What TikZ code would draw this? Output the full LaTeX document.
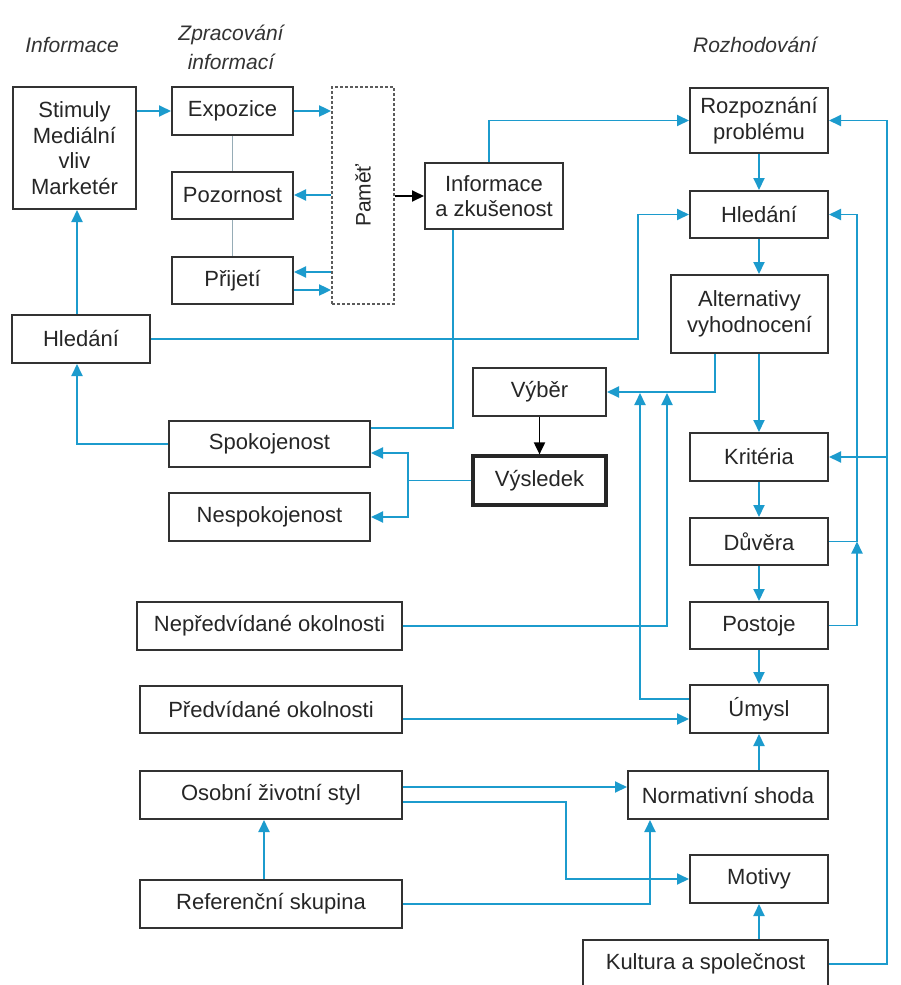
\documentclass[tikz,border=0pt]{standalone}
\usepackage{fontspec}
\setmainfont{Liberation Sans}
\usetikzlibrary{arrows.meta,calc}
\definecolor{cblue}{RGB}{28,155,205}
\definecolor{cbox}{RGB}{50,50,50}
\definecolor{cgrayline}{RGB}{150,172,182}
\begin{document}
\begin{tikzpicture}[x=1pt,y=-1pt,
  box/.style={draw=cbox,line width=2pt,fill=white,inner sep=0pt,align=center,
    font=\fontsize{22}{25.5}\selectfont,text=black!85},
  hdr/.style={inner sep=0pt,align=center,font=\fontsize{21}{29}\selectfont\itshape,text=black!80},
  bl/.style={draw=cblue,line width=1.9pt},
  ba/.style={bl,-{Triangle[length=12pt,width=11pt]}},
  ka/.style={draw=black,line width=1.9pt,-{Triangle[length=12pt,width=11pt]}},
]
\clip (0,0) rectangle (900,985);
\fill[white] (0,0) rectangle (900,985);

% headers
\node[hdr] (hinf) at (72,45) {Informace};
\node[hdr] (hzpr) at (231,47) {Zpracování\\informací};
\node[hdr] (hroz) at (755,45) {Rozhodování};

% boxes left/middle
\node[box,minimum width=123,minimum height=122] (stim) at (74.5,148) {Stimuly\\Mediální\\vliv\\Marketér};
\node[box,minimum width=121,minimum height=48] (expo) at (232.5,111) {Expozice};
\node[box,minimum width=121,minimum height=47] (pozor) at (232.5,195) {Pozornost};
\node[box,minimum width=121,minimum height=47] (prij) at (232.5,280.5) {Přijetí};
\node[box,draw=cbox!80,densely dashed,line width=1.8pt,minimum width=62,minimum height=217] (pamet) at (363,195.5) {};
\node[rotate=90,font=\fontsize{21}{25}\selectfont,text=black!85] (pametlbl) at (pamet.center) {Paměť};
\node[box,minimum width=138,minimum height=48] (hledL) at (81,339) {Hledání};
\node[box,minimum width=138,minimum height=66] (infz) at (494,196) {Informace\\a zkušenost};
\node[box,minimum width=133,minimum height=48] (vyber) at (539.5,392) {Výběr};
\node[box,line width=3.2pt,draw=black!85,minimum width=133,minimum height=49] (vysl) at (539.5,480.5) {Výsledek};
\node[box,minimum width=201,minimum height=46] (spok) at (269.5,444) {Spokojenost};
\node[box,minimum width=201,minimum height=48] (nesp) at (269.5,517) {Nespokojenost};
\node[box,minimum width=265,minimum height=48] (neprd) at (269.5,626) {Nepředvídané okolnosti};
\node[box,minimum width=262,minimum height=47] (pred) at (271,709.5) {Předvídané okolnosti};
\node[box,minimum width=262,minimum height=48] (osob) at (271,795) {Osobní životní styl};
\node[box,minimum width=262,minimum height=48] (ref) at (271,904) {Referenční skupina};

% right column
\node[box,minimum width=138,minimum height=65] (rozp) at (759,120.5) {Rozpoznání\\problému};
\node[box,minimum width=138,minimum height=47] (hledR) at (759,214.5) {Hledání};
\node[box,minimum width=157,minimum height=78] (alt) at (749.5,314) {Alternativy\\vyhodnocení};
\node[box,minimum width=138,minimum height=48] (krit) at (759,457) {Kritéria};
\node[box,minimum width=138,minimum height=47] (duv) at (759,541.5) {Důvěra};
\node[box,minimum width=138,minimum height=47] (post) at (759,625.5) {Postoje};
\node[box,minimum width=138,minimum height=48] (umysl) at (759,709) {Úmysl};
\node[box,minimum width=200,minimum height=48] (norm) at (728,795) {Normativní shoda};
\node[box,minimum width=138,minimum height=48] (motiv) at (759,879) {Motivy};
\node[box,minimum width=245,minimum height=48] (kult) at (705.5,964) {Kultura a společnost};

% helper coordinates
\coordinate (x638) at (638,0);
\coordinate (j1) at (640,393);
\coordinate (j2) at (667,393);
\coordinate (jd) at (857,541.5);
\coordinate (xr) at (887,0);
\coordinate (xv) at (408,0);
\coordinate (x566) at (566,0);

% information processing
\draw[ba] (expo.west -| stim.east) -- (expo.west);
\draw[ba] (expo.east) -- (expo.east -| pamet.west);
\draw[ba] (pozor.east -| pamet.west) -- (pozor.east);
\draw[ba] ([yshift=8.5pt]prij.east -| pamet.west) -- ([yshift=8.5pt]prij.east);
\draw[ba] ([yshift=-9.5pt]prij.east) -- ([yshift=-9.5pt]prij.east -| pamet.west);
\draw[draw=cgrayline,line width=1.6pt] (expo.south) -- (pozor.north);
\draw[draw=cgrayline,line width=1.6pt] (pozor.south) -- (prij.north);
\draw[ka] (pamet.east |- infz.west) -- (infz.west);

% left loop
\draw[ba] ([xshift=-4pt]hledL.north) -- ([xshift=-4pt]hledL.north |- stim.south);
\draw[ba] (spok.west) -| ([xshift=-4pt]hledL.south);
\draw[ba] ([xshift=-5pt]infz.north) |- (rozp.west);
\draw[bl] ([xshift=-41pt]infz.south) |- ([yshift=16pt]spok.east);
\draw[ba] (hledL.east) -- (hledL.east -| x638) |- (hledR.west);

% decision column
\draw[ba] (rozp.south) -- (hledR.north);
\draw[ba] (hledR.south) -- (hledR.south |- alt.north);
\draw[ba] (krit.north |- alt.south) -- (krit.north);
\draw[ba] ([xshift=-34.5pt]alt.south) |- (vyber.east);
\draw[ba] ([yshift=10pt]umysl.west) -| (j1);
\draw[ba] (neprd.east) -| (j2);
\draw[ba] (krit.south) -- (duv.north);
\draw[ba] (duv.south) -- (post.north);
\draw[ba] (post.south) -- (umysl.north);
\draw[bl] (duv.east) -- (jd);
\draw[ba] (post.east) -| (jd);
\draw[ba] (jd) |- (hledR.east);
\draw[ba] (kult.east) -| (xr |- rozp.east) -- (rozp.east);
\draw[ba] (krit.east -| xr) -- (krit.east);

% outcome
\draw[ka] (vyber.south) -- (vysl.north);
\draw[bl] (vysl.west) -- (vysl.west -| xv);
\draw[ba] (vysl.west -| xv) |- ([yshift=-9pt]spok.east);
\draw[ba] (vysl.west -| xv) |- (nesp.east);

% bottom influences
\draw[ba] ([yshift=-9.5pt]pred.east) -- ([yshift=-9.5pt]pred.east -| umysl.west);
\draw[ba] ([yshift=8pt]osob.east) -- ([yshift=8pt]osob.east -| norm.west);
\draw[ba] ([yshift=-7pt]osob.east) -| (x566 |- motiv.west) -- (motiv.west);
\draw[ba] (ref.east) -| ([xshift=-78pt]norm.south);
\draw[ba] ([xshift=-7pt]ref.north) -- ([xshift=-7pt]osob.south);
\draw[ba] (norm.north -| umysl.south) -- (umysl.south);
\draw[ba] (kult.north -| motiv.south) -- (motiv.south);
\end{tikzpicture}
\end{document}
